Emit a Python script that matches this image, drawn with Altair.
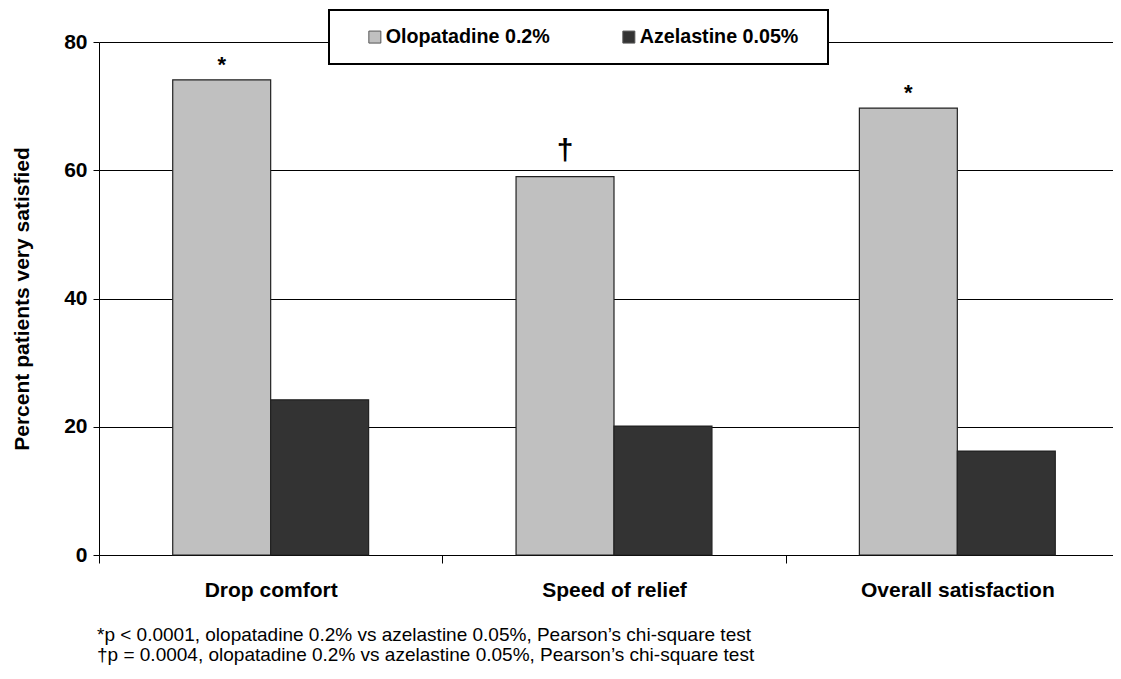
import altair as alt
import pandas as pd

categories = ["Drop comfort", "Speed of relief", "Overall satisfaction"]
series = ["Olopatadine 0.2%", "Azelastine 0.05%"]
olopatadine = [74.1, 59.0, 69.7]
azelastine = [24.2, 20.1, 16.2]
markers = ["*", "\u2020", "*"]
colors = ["#C0C0C0", "#333333"]
y_ticks = [0, 20, 40, 60, 80]
footnotes = [
    "*p < 0.0001, olopatadine 0.2% vs azelastine 0.05%, Pearson\u2019s chi-square test",
    "\u2020p = 0.0004, olopatadine 0.2% vs azelastine 0.05%, Pearson\u2019s chi-square test",
]

rows = []
for i, c in enumerate(categories):
    rows.append(dict(category=c, series=series[0], value=olopatadine[i], marker=markers[i]))
    rows.append(dict(category=c, series=series[1], value=azelastine[i], marker=""))
df = pd.DataFrame(rows)

FONT = "Liberation Sans"

x = alt.X(
    "category:N", sort=categories, title=None,
    scale=alt.Scale(range=[0, 1030], paddingInner=0, paddingOuter=0),
    axis=alt.Axis(labelAngle=0, tickBand="extent", tickSize=8, tickColor="black",
                  domainColor="black", labelFont=FONT, labelFontSize=21,
                  labelFontWeight="bold", labelColor="black", labelPadding=16,
                  labelLimit=400, grid=False),
)
xo = alt.XOffset("series:N", sort=series,
                 scale=alt.Scale(paddingInner=0, paddingOuter=0.7526))
y = alt.Y(
    "value:Q", scale=alt.Scale(domain=[0, 80]),
    title="Percent patients very satisfied",
    axis=alt.Axis(values=y_ticks, grid=True, gridColor="black", gridWidth=1,
                  gridOpacity=1, domainColor="black", tickColor="black", tickSize=6,
                  labelFont=FONT, labelFontSize=21, labelFontWeight="bold",
                  labelColor="black", labelPadding=6, titleFont=FONT,
                  titleFontSize=21, titleFontWeight="bold", titleColor="black",
                  titlePadding=31),
)

bars = alt.Chart(df).mark_bar(stroke="#222222", strokeWidth=1.2).encode(
    x=x, xOffset=xo, y=y,
    color=alt.Color(
        "series:N", sort=series,
        scale=alt.Scale(domain=series, range=colors),
        legend=alt.Legend(
            title="x", titleOrient="right", titleOpacity=0, titleFontSize=10,
            titlePadding=7,
            orient="none", legendX=230, legendY=-32,
            direction="horizontal", strokeColor="black", fillColor="white",
            padding=17, labelFont=FONT, labelFontSize=19.7, labelFontWeight="bold",
            labelColor="black", labelLimit=400, symbolType="square", symbolSize=144,
            symbolStrokeColor="#555555", symbolStrokeWidth=1, columnPadding=50,
            symbolOffset=19, labelOffset=1,
        ),
    ),
)

stars = alt.Chart(df).transform_filter(alt.datum.marker == "*").mark_text(
    font=FONT, fontSize=22, fontWeight="bold", baseline="alphabetic", dy=-8,
    color="black"
).encode(x=x, xOffset=xo, y=alt.Y("value:Q"), text="marker:N")

daggers = alt.Chart(df).transform_filter(alt.datum.marker == "\u2020").mark_text(
    font=FONT, fontSize=30, fontWeight="bold", baseline="alphabetic", dy=-17,
    color="black"
).encode(x=x, xOffset=xo, y=alt.Y("value:Q"), text="marker:N")

chart = alt.layer(bars, stars, daggers).properties(
    width=1014, height=513,
    autosize=alt.AutoSizeParams(type="none"),
    padding={"left": 91, "top": 34, "right": 0, "bottom": 116},
    title=alt.TitleParams(
        text=footnotes, orient="bottom", anchor="start", frame="group",
        font=FONT, fontSize=19, fontWeight="normal", color="black", dx=-2,
        offset=26, lineHeight=20,
    ),
).configure_view(stroke=None).configure_legend(strokeWidth=2)

chart.save("out.html", embed_options={"renderer": "svg", "actions": False})
